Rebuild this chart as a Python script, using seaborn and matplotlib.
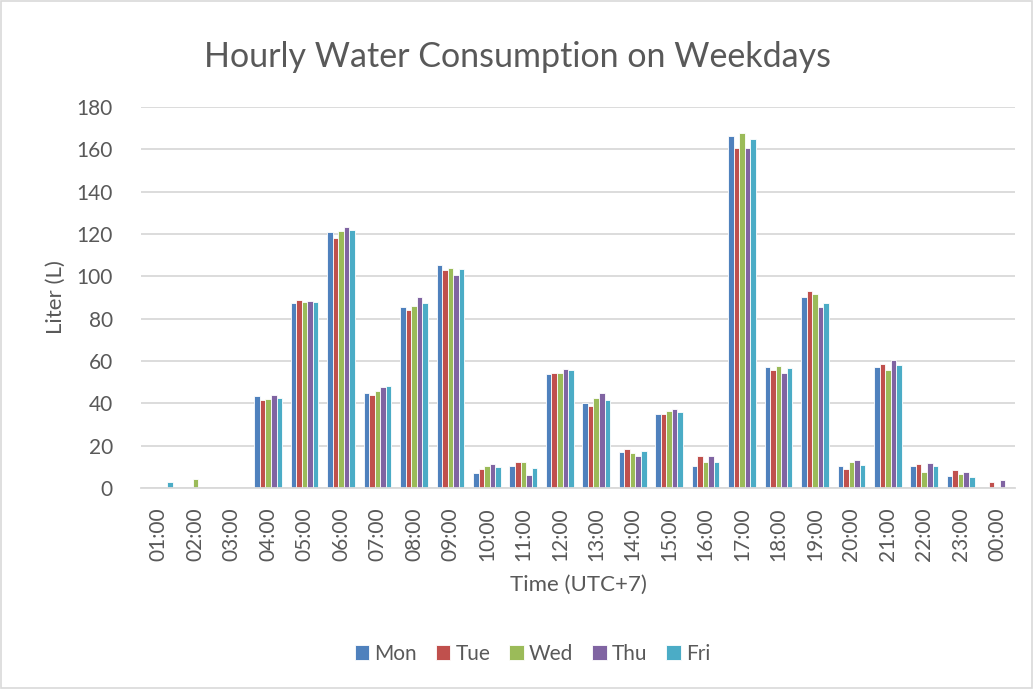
import pandas as pd
import matplotlib
matplotlib.use("Agg")
import matplotlib.pyplot as plt
import seaborn as sns

hours = ["01:00", "02:00", "03:00", "04:00", "05:00", "06:00", "07:00", "08:00",
         "09:00", "10:00", "11:00", "12:00", "13:00", "14:00", "15:00", "16:00",
         "17:00", "18:00", "19:00", "20:00", "21:00", "22:00", "23:00", "00:00"]
days = ["Mon", "Tue", "Wed", "Thu", "Fri"]

mon = [0, 0, 0, 43.3, 87.2, 120.8, 45.0, 85.7, 105.2, 7.3, 10.3, 53.7, 40.3, 17.0,
       35.1, 10.3, 166.3, 57.3, 90.2, 10.6, 57.0, 10.3, 5.7, 0]
tue = [0, 0, 0, 41.4, 89.0, 118.3, 43.8, 84.1, 103.0, 8.9, 12.2, 54.3, 38.7, 18.4,
       34.8, 14.9, 160.6, 55.9, 93.0, 9.2, 58.6, 11.3, 8.3, 3.0]
wed = [0, 4.1, 0, 42.0, 87.7, 121.3, 45.7, 86.0, 104.1, 10.2, 12.2, 54.3, 42.7, 16.5,
       36.3, 12.5, 167.7, 57.6, 91.8, 12.2, 55.6, 7.6, 6.7, 0]
thu = [0, 0, 0, 43.8, 88.3, 123.5, 47.9, 90.2, 100.5, 11.3, 6.3, 56.0, 45.1, 15.1,
       37.5, 14.9, 160.6, 54.3, 85.5, 13.2, 60.3, 11.9, 7.6, 4.0]
fri = [2.7, 0, 0, 42.7, 87.7, 121.7, 48.0, 87.2, 103.5, 9.8, 9.5, 55.7, 41.7, 17.5,
       35.7, 12.2, 164.9, 56.7, 87.6, 10.7, 57.9, 10.6, 5.1, 0]

colors = ["#4F81BD", "#C0504D", "#9BBB59", "#8064A2", "#4BACC6"]
text_color = "#595959"
grid_color = "#D9D9D9"

df = pd.DataFrame({"Time": hours, "Mon": mon, "Tue": tue, "Wed": wed, "Thu": thu, "Fri": fri})
long_df = df.melt(id_vars="Time", var_name="Day", value_name="Liter")

sns.set_theme(style="white")
plt.rcParams["font.family"] = ["Lato", "DejaVu Sans"]

fig = plt.figure(figsize=(10.34, 6.89), dpi=100)
ax = fig.add_axes([0.136, 0.2917, 0.846, 0.553])

sns.barplot(data=long_df, x="Time", y="Liter", hue="Day", order=hours, hue_order=days,
            palette=colors, saturation=1, width=0.76, edgecolor="white", linewidth=0.6,
            errorbar=None, ax=ax)

ax.set_ylim(0, 180)
ax.set_yticks(range(0, 181, 20))
ax.set_xlim(-0.5, len(hours) - 0.5)
ax.yaxis.grid(True, color=grid_color, linewidth=1.3)
ax.set_axisbelow(True)
for side in ["top", "right", "left"]:
    ax.spines[side].set_visible(False)
ax.spines["bottom"].set_color(grid_color)
ax.spines["bottom"].set_linewidth(1.3)
ax.tick_params(axis="both", length=0, colors=text_color, labelsize=15)
ax.tick_params(axis="x", rotation=90, pad=14)
ax.tick_params(axis="y", pad=20)

ax.set_xlabel("Time (UTC+7)", fontsize=16, color=text_color, labelpad=10)
ax.set_ylabel("Liter (L)", fontsize=16, color=text_color, labelpad=8)
fig.suptitle("Hourly Water Consumption on Weekdays", fontsize=24.5, color=text_color,
             y=0.94)

handles, labels = ax.get_legend_handles_labels()
ax.legend().remove()
fig.legend(handles, labels, loc="center", bbox_to_anchor=(0.515, 0.051),
           ncol=5, frameon=False, fontsize=15, handlelength=0.7, handleheight=0.7,
           handletextpad=0.25, columnspacing=0.9, labelcolor=text_color)

fig.patches.append(plt.Rectangle((0.001, 0.001), 0.997, 0.997, transform=fig.transFigure,
                                 fill=False, edgecolor=grid_color, linewidth=1.2))

fig.savefig("out.png", dpi=100, facecolor="white")
plt.close(fig)
